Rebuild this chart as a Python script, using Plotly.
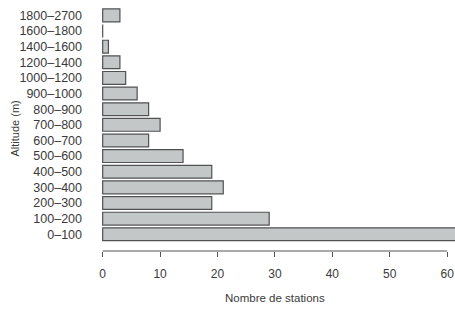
import plotly.graph_objects as go

categories = ["0–100", "100–200", "200–300", "300–400", "400–500", "500–600",
              "600–700", "700–800", "800–900", "900–1000", "1000–1200",
              "1200–1400", "1400–1600", "1600–1800", "1800–2700"]
stations = [62, 29, 19, 21, 19, 14, 8, 10, 8, 6, 4, 3, 1, 0, 3]
x_ticks = [0, 10, 20, 30, 40, 50, 60]

ink = "#3a3a3a"
fig = go.Figure(go.Bar(
    x=stations, y=categories, orientation="h", width=0.82,
    marker=dict(color="#c3c7c7", line=dict(color="#505252", width=1.2)),
))

fig.update_layout(
    width=455, height=310,
    margin=dict(l=95, r=0, t=6, b=59),
    paper_bgcolor="white", plot_bgcolor="white",
    showlegend=False,
    font=dict(family="Liberation Sans, Arial", size=12, color=ink),
    xaxis=dict(
        range=[-1.34, 61.37], tickvals=x_ticks, ticks="outside", ticklen=5,
        tickcolor="#555", tickwidth=1, showgrid=False, zeroline=False,
        showline=False, ticklabelstandoff=7, automargin=False,
        tickfont=dict(size=12, color=ink),
    ),
    yaxis=dict(
        type="category", categoryorder="array", categoryarray=categories,
        range=[-1.07, 14.6], showgrid=False, zeroline=False, showline=False,
        ticks="", ticklabelstandoff=12, automargin=False,
        tickfont=dict(size=12.5, color=ink),
    ),
    shapes=[dict(type="line", xref="x", yref="paper", x0=0, x1=60, y0=0, y1=0,
                 line=dict(color="#555", width=1))],
    annotations=[
        dict(text="Nombre de stations", xref="x", yref="paper", x=30, y=0,
             xanchor="center", yanchor="middle", yshift=-47, showarrow=False,
             font=dict(size=11.5, color=ink)),
        dict(text="Altitude (m)", xref="paper", yref="paper", x=0, y=0.5,
             xanchor="center", yanchor="middle", xshift=-81, textangle=-90,
             showarrow=False, font=dict(size=11, color=ink)),
    ],
)

fig.write_html("out.html", config={"displayModeBar": False},
               post_script="document.body.style.margin='0';")
